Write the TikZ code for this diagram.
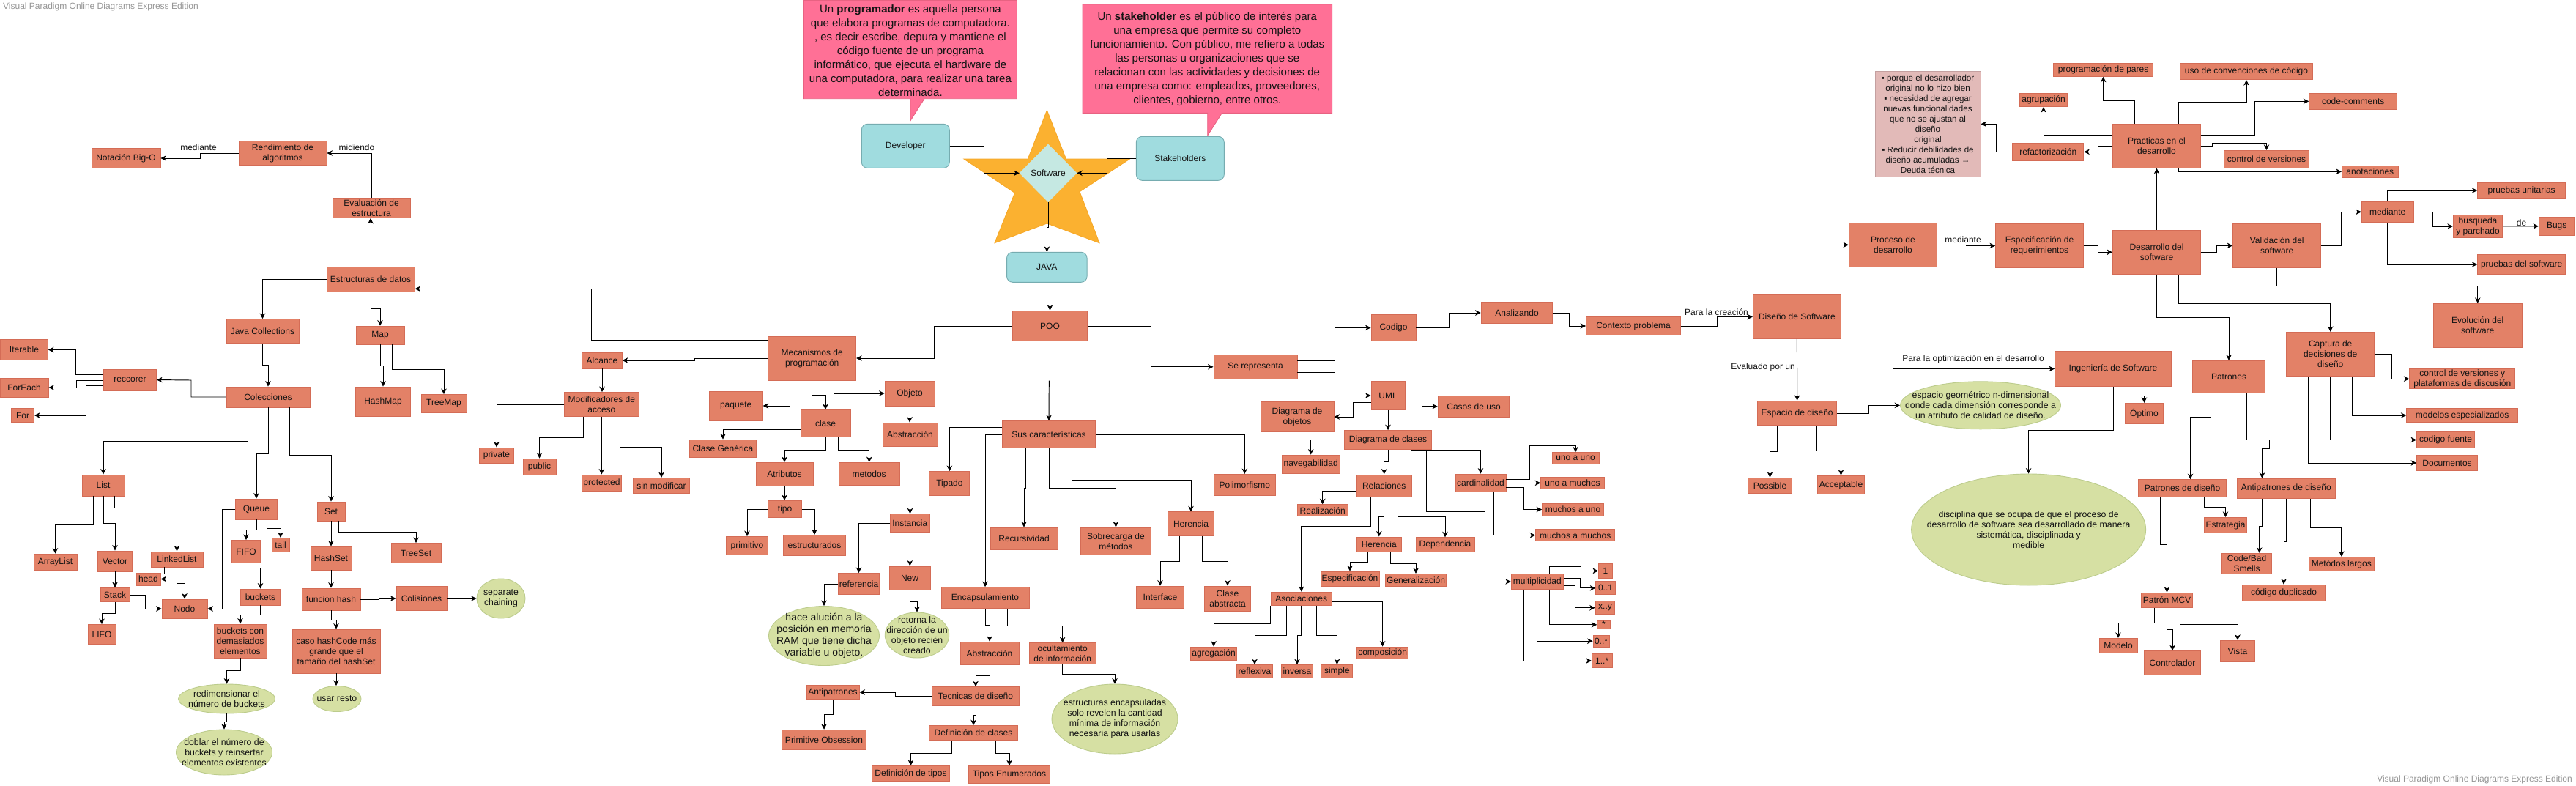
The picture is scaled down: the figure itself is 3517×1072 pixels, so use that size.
\documentclass[tikz,border=0pt]{standalone}
\usepackage{fontspec}
\setmainfont{Liberation Sans}
\usetikzlibrary{arrows.meta,shapes.geometric}
\definecolor{boxfill}{RGB}{227,129,103}
\definecolor{boxline}{RGB}{212,108,86}
\definecolor{ellfill}{RGB}{214,224,163}
\definecolor{ellline}{RGB}{188,204,140}
\definecolor{cyanfill}{RGB}{160,220,223}
\definecolor{cyanline}{RGB}{118,172,176}
\definecolor{diafill}{RGB}{197,232,226}
\definecolor{starfill}{RGB}{251,177,48}
\definecolor{starline}{RGB}{246,168,40}
\definecolor{pinkfill}{RGB}{255,112,150}
\definecolor{pinkline}{RGB}{232,98,130}
\definecolor{deudafill}{RGB}{226,186,184}
\definecolor{deudaline}{RGB}{196,160,160}
\definecolor{wmgray}{RGB}{150,150,150}
\definecolor{txt}{RGB}{20,20,20}
\newcommand{\mybox}[6]{\node[box,minimum width=#4pt,minimum height=#5pt] (#1) at (#2,#3) {#6};}
\newcommand{\myell}[6]{\node[ell,minimum width=#4pt,minimum height=#5pt] (#1) at (#2,#3) {};\node[etext] (#1t) at (#1) {#6};}
\begin{document}
\begin{tikzpicture}[x=1pt,y=-1pt,
  box/.style={draw=boxline,fill=boxfill,line width=0.9pt,align=center,inner sep=1pt,font=\fontsize{12}{14}\selectfont,text=txt},
  rbox/.style={draw=cyanline,fill=cyanfill,line width=0.9pt,rounded corners=8pt,align=center,inner sep=1pt,font=\fontsize{12}{14}\selectfont,text=txt},
  ell/.style={ellipse,draw=ellline,fill=ellfill,line width=0.9pt,inner sep=0pt},
  etext/.style={align=center,inner sep=0pt,font=\fontsize{12.3}{14}\selectfont,text=txt},
  lbl/.style={inner sep=0pt,font=\fontsize{12}{14}\selectfont,text=txt},
  arr/.style={draw=black,line width=0.95pt,-{Stealth[length=7.5pt,width=7.5pt,inset=2.2pt]}},
  callout/.style={draw=pinkline,fill=pinkfill,line width=0.9pt},
  ctext/.style={align=center,inner sep=0pt,font=\fontsize{15}{19}\selectfont,text=txt}
]
\fill[white] (0,0) rectangle (3517,1072);
\useasboundingbox (0,0) rectangle (3517,1072);

% watermarks
\node[anchor=north west,inner sep=0pt,font=\fontsize{12}{14}\selectfont,text=wmgray] (wm1) at (4,4) {Visual Paradigm Online Diagrams Express Edition};
\node[anchor=south east,inner sep=0pt,font=\fontsize{12}{14}\selectfont,text=wmgray] (wm2) at (3512,1070) {Visual Paradigm Online Diagrams Express Edition};

% ---------- callouts ----------
\draw[callout] (1097.4,0.5) -- (1388.3,0.5) -- (1388.3,134.7) -- (1262,134.7) -- (1243,164.7) -- (1243,134.7) -- (1097.4,134.7) -- cycle;
\node[ctext] (cprog) at (1242.9,68.7) {Un \textbf{programador} es aquella persona\\que elabora programas de computadora.\\, es decir escribe, depura y mantiene el\\código fuente de un programa\\informático, que ejecuta el hardware de\\una computadora, para realizar una tarea\\determinada.};
\draw[callout] (1478,6) -- (1818.7,6) -- (1818.7,154.3) -- (1668.3,154.3) -- (1648.7,185) -- (1648.7,154.3) -- (1478,154.3) -- cycle;
\node[ctext] (cstk) at (1648.3,81) {Un \textbf{stakeholder} es el público de interés para\\una empresa que permite su completo\\funcionamiento. Con público, me refiero a todas\\las personas u organizaciones que se\\relacionan con las actividades y decisiones de\\una empresa como: empleados, proveedores,\\clientes, gobierno, entre otros.};

% ---------- star & top ----------
\draw[fill=starfill,draw=starline,line width=0.9pt] (1429.4,150.7) -- (1455.5,217) -- (1542.5,217) -- (1474,261.7) -- (1501,331.7) -- (1429.4,305) -- (1358,331.7) -- (1385.5,263.3) -- (1316,217) -- (1403.3,217) -- cycle;
\node[diamond,draw=diafill,fill=diafill,minimum width=78pt,minimum height=79pt,inner sep=0pt,font=\fontsize{12}{14}\selectfont,text=txt] (soft) at (1431,236.3) {Software};
\node[rbox,minimum width=120pt,minimum height=60pt] (dev) at (1236.3,199.3) {Developer};
\node[rbox,minimum width=120pt,minimum height=60pt] (stk) at (1611.3,216.3) {Stakeholders};
\node[rbox,minimum width=109.5pt,minimum height=41pt] (java) at (1429.3,364.8) {JAVA};
\mybox{poo}{1433.5}{445}{102.4}{41.4}{POO}

% ---------- left cluster ----------
\mybox{nbo}{172}{216}{94}{27}{Notación Big-O}
\mybox{rend}{386}{209}{120}{33}{Rendimiento de\\algoritmos}
\mybox{eval}{507}{284}{106}{27}{Evaluación de\\estructura}
\mybox{est}{506}{381.5}{120}{34}{Estructuras de datos}
\mybox{jc}{358.5}{452}{99}{33}{Java Collections}
\mybox{map}{519}{457.5}{66}{25}{Map}
\mybox{hmap}{523}{548}{75}{40}{HashMap}
\mybox{tmap}{606}{551}{62}{25}{TreeMap}
\mybox{col}{366}{542}{114}{28}{Colecciones}
\mybox{rec}{177.5}{518.5}{72}{29}{reccorer}
\mybox{iter}{33}{477.5}{65}{28}{Iterable}
\mybox{fe}{33}{529}{66}{26}{ForEach}
\mybox{forb}{31}{567}{31}{19}{For}
\mybox{list}{141}{662.5}{58}{29}{List}
\mybox{queue}{350}{695}{57}{28}{Queue}
\mybox{set}{452}{698}{38}{26}{Set}
\mybox{alist}{75.5}{767}{59}{22}{ArrayList}
\mybox{vec}{157}{766}{47}{28}{Vector}
\mybox{llist}{241.5}{763.5}{71}{21}{LinkedList}
\mybox{head}{202.5}{790.5}{33}{17}{head}
\mybox{nodo}{252}{831}{62}{26}{Nodo}
\mybox{stack}{157}{812}{40}{19}{Stack}
\mybox{lifo}{139}{866}{38}{27}{LIFO}
\mybox{fifo}{336}{753}{39}{31}{FIFO}
\mybox{tail}{383}{744}{24}{19}{tail}
\mybox{hset}{452}{762}{56}{32}{HashSet}
\mybox{tset}{568}{755}{68}{27}{TreeSet}
\mybox{buck}{355.5}{815}{54}{22}{buckets}
\mybox{fhash}{452}{818}{80}{30}{funcion hash}
\mybox{colis}{575.5}{817}{69}{33}{Colisiones}
\mybox{bcde}{328}{875}{72}{46}{buckets con\\demasiados\\elementos}
\mybox{caso}{459}{889}{120}{60}{caso hashCode más\\grande que el\\tamaño del hashSet}
\myell{redim}{309.5}{954}{132}{40}{redimensionar el\\número de buckets}
\myell{usar}{460}{954}{66}{35}{usar resto}
\myell{doblar}{306}{1027}{131}{62}{doblar el número de\\buckets y reinsertar\\elementos existentes}
\myell{sep}{684}{817}{66}{54}{separate\\chaining}

\node[lbl] (lmed1) at (271,201) {mediante};
\node[lbl] (lmid) at (487,201) {midiendo};

\draw[arr] (eval.north) |- (rend.east);
\draw[arr] (rend.west) -| (273,216) -- (nbo.east);
\draw[arr] (est.north) -- (est.north |- eval.south);
\draw[arr] (est.west) -| (jc.north);
\draw[arr] (est.south) |- (519,421) -- (map.north);
\draw[arr] (map.south) |- (523,499) -- (hmap.north);
\draw[arr] (map.south -| 535,0) |- (606,504) -- (tmap.north);
\draw[arr] (jc.south) |- (366,498) -- (col.north);
\draw[arr] (col.west) -| (261,519) -- (rec.east);
\draw[arr] (rec.west |- 0,511) -| (103,477.5) -- (iter.east);
\draw[arr] (rec.west |- 0,519) -| (104,529) -- (fe.east);
\draw[arr] (rec.west |- 0,526.7) -| (117,567) -- (forb.east);
\draw[arr] (col.south -| 338,0) |- (141,602) -- (list.north);
\draw[arr] (col.south) |- (350,619) -- (queue.north);
\draw[arr] (col.south -| 395,0) |- (452,621) -- (set.north);
\draw[arr] (list.south -| 127,0) |- (75.5,716) -- (alist.north);
\draw[arr] (list.south) |- (157,714) -- (vec.north);
\draw[arr] (list.south -| 156.5,0) |- (241.5,693) -- (llist.north);
\draw[arr] (llist.south -| 224.5,0) |- (229,783.7) |- (head.east);
\draw[arr] (llist.south) |- (252,796.7) -- (nodo.north);
\draw[arr] (vec.south) -- (stack.north);
\draw[arr] (stack.east) -| (198,831) -- (nodo.west);
\draw[arr] (stack.south) |- (139,837) -- (lifo.north);
\draw[arr] (queue.west) -| (303,831) -- (nodo.east);
\draw[arr] (queue.south) |- (336,723) -- (fifo.north);
\draw[arr] (queue.south -| 364.4,0) |- (383,721) -- (tail.north);
\draw[arr] (set.south) -- (hset.north);
\draw[arr] (set.south -| 462,0) |- (568,726) -- (tset.north);
\draw[arr] (hset.west |- 0,775) -| (buck.north);
\draw[arr] (hset.south) -- (fhash.north);
\draw[arr] (fhash.east) -| (517,817) -- (colis.west);
\draw[arr] (colis.east) -- (sep.west);
\draw[arr] (buck.south) |- (328,839) -- (bcde.north);
\draw[arr] (fhash.south) |- (459,846.7) -- (caso.north);
\draw[arr] (bcde.south) |- (309.5,915) -- (redim.north);
\draw[arr] (caso.south) -- (caso.south |- usar.north);
\draw[arr] (redim.south) |- (306,985) -- (doblar.north);

% ---------- middle cluster ----------
\mybox{mec}{1108.7}{489}{120}{60}{Mecanismos de\\programación}
\mybox{alc}{822}{492}{54.5}{22}{Alcance}
\mybox{mod}{821.4}{552}{102}{33}{Modificadores de\\acceso}
\mybox{priv}{678}{621.5}{47}{21}{private}
\mybox{pub}{736.5}{637}{45}{22}{public}
\mybox{prot}{821.5}{659}{53.5}{22}{protected}
\mybox{sinm}{903}{663}{77}{21}{sin modificar}
\mybox{paq}{1004.7}{554}{73}{40}{paquete}
\mybox{clase}{1127}{578}{68}{37}{clase}
\mybox{obj}{1242}{537}{68}{34}{Objeto}
\mybox{cgen}{987}{612}{91}{24}{Clase Genérica}
\mybox{atr}{1071}{647.5}{78}{32}{Atributos}
\mybox{met}{1186.7}{647}{83}{31}{metodos}
\mybox{absa}{1242.5}{593}{75}{32}{Abstracción}
\mybox{tipo}{1071.6}{695}{46}{23}{tipo}
\mybox{prim}{1020}{745}{57}{25}{primitivo}
\mybox{estr}{1112}{744.5}{85}{28}{estructurados}
\mybox{inst}{1242.3}{714}{53.5}{24.5}{Instancia}
\mybox{ref}{1172.5}{797}{54}{29}{referencia}
\mybox{new}{1242}{789}{56}{32}{New}
\node[ell,minimum width=151pt,minimum height=81pt] (hace) at (1125,868) {};
\node[etext,font=\fontsize{14}{16}\selectfont] (hacet) at (hace) {hace alución a la\\posición en memoria\\RAM que tiene dicha\\variable u objeto.};
\myell{ret}{1252}{867}{87.5}{62}{retorna la\\dirección de un\\objeto recién\\creado}
\mybox{sus}{1432}{593}{127.5}{37}{Sus características}
\mybox{tip}{1296.4}{660}{55}{33}{Tipado}
\mybox{recu}{1398}{735}{92}{30}{Recursividad}
\mybox{sobre}{1523.4}{739}{96}{37.7}{Sobrecarga de\\métodos}
\mybox{enc}{1345}{816}{120}{28.7}{Encapsulamiento}
\mybox{absb}{1351}{892}{80}{31.7}{Abstracción}
\mybox{ocul}{1450.7}{892}{91}{28.7}{ocultamiento\\de información}
\mybox{tec}{1332}{950.5}{119}{25.7}{Tecnicas de diseño}
\mybox{antia}{1137}{945}{72}{19.7}{Antipatrones}
\mybox{prob}{1125}{1009.7}{115}{27}{Primitive Obsession}
\mybox{dclas}{1329}{1000.5}{121}{19.7}{Definición de clases}
\mybox{dtip}{1243.5}{1056}{106}{21}{Definición de tipos}
\mybox{tenum}{1378}{1057.5}{111}{23.7}{Tipos Enumerados}
\myell{estenc}{1522}{981.5}{172}{95}{estructuras encapsuladas\\solo revelen la cantidad\\mínima de información\\necesaria para usarlas}

\draw[arr] (mec.west |- 0,464) -| (807.6,394.3) -- (est.east |- 0,394.3);
\draw[arr] (mec.west) -| (948.7,492) -- (alc.east);
\draw[arr] (alc.south) -- (alc.south |- mod.north);
\draw[arr] (mod.west) -| (priv.north);
\draw[arr] (mod.south -| 796.4,0) |- (736.5,597) -- (pub.north);
\draw[arr] (mod.south) -- (mod.south |- prot.north);
\draw[arr] (mod.south -| 846.4,0) |- (903,610) -- (sinm.north);
\draw[arr] (mec.south -| 1078.6,0) |- (paq.east);
\draw[arr] (mec.south) |- (1127,539) -- (clase.north);
\draw[arr] (mec.south -| 1138,0) |- (obj.west);
\draw[arr] (clase.west |- 0,586.3) -| (cgen.north);
\draw[arr] (clase.south) |- (1071,614) -- (atr.north);
\draw[arr] (clase.south -| 1144,0) |- (1186.7,614) -- (met.north);
\draw[arr] (obj.south) -- (obj.south |- absa.north);
\draw[arr] (atr.south) -- (atr.south |- tipo.north);
\draw[arr] (tipo.west) -| (prim.north);
\draw[arr] (tipo.east) -| (estr.north);
\draw[arr] (absa.south) -- (absa.south |- inst.north);
\draw[arr] (inst.west) -| (ref.north);
\draw[arr] (inst.south) -- (inst.south |- new.north);
\draw[arr] (ref.west) -| (hace.north);
\draw[arr] (new.south) |- (1252,821.7) -- (ret.north);
\draw[arr] (poo.west) -| (1275.5,489) -- (mec.east);
\draw[arr] (poo.south) |- (1432.3,520) -- (sus.north);
\draw[arr] (sus.west |- 0,583.3) -| (tip.north);
\draw[arr] (sus.west |- 0,593.3) -| (enc.north);
\draw[arr] (sus.south -| 1400,0) |- (1398,666.7) -- (recu.north);
\draw[arr] (sus.south -| 1432.6,0) |- (1523.4,666.3) -- (sobre.north);
\draw[arr] (enc.south) |- (1351,853) -- (absb.north);
\draw[arr] (enc.south -| 1375.4,0) |- (1450.7,854.3) -- (ocul.north);
\draw[arr] (absb.south) |- (1332,922) -- (tec.north);
\draw[arr] (tec.west) -| (1222,945) -- (antia.east);
\draw[arr] (antia.south) |- (1125,975.3) -- (prob.north);
\draw[arr] (tec.south) |- (1329,976.7) -- (dclas.north);
\draw[arr] (dclas.south -| 1299.5,0) |- (1243.5,1028.3) -- (dtip.north);
\draw[arr] (dclas.south -| 1359.4,0) |- (1378,1028.3) -- (tenum.north);
\draw[arr] (ocul.south) |- (1522,920.3) -- (estenc.north);

% top connectors
\draw[arr] (dev.east) -| (1343,236.3) -- (soft.west);
\draw[arr] (stk.west) -| (1511.3,236.3) -- (soft.east);
\draw[arr] (soft.south) |- (1429.3,310) -- (java.north);
\draw[arr] (java.south) |- (1433.5,405) -- (poo.north);

% ---------- right-middle cluster ----------
\mybox{serep}{1714}{500.8}{114}{32.5}{Se representa}
\mybox{poli}{1699.3}{662}{84}{29}{Polimorfismo}
\mybox{hera}{1626}{715}{63}{32.4}{Herencia}
\mybox{intf}{1584}{815}{65}{30}{Interface}
\mybox{cabs}{1676}{817}{63}{34}{Clase\\abstracta}
\mybox{cod}{1902.5}{447.4}{61}{36}{Codigo}
\mybox{anal}{2071}{427}{97.7}{29.3}{Analizando}
\mybox{ctx}{2230}{445}{129}{25.4}{Contexto problema}
\mybox{uml}{1895}{540}{46}{39}{UML}
\mybox{dobj}{1771}{569}{100}{41}{Diagrama de\\objetos}
\mybox{casos}{2012}{554.8}{97.6}{29.7}{Casos de uso}
\mybox{dcl}{1895}{600.7}{119}{26}{Diagrama de clases}
\mybox{nav}{1789.7}{633.8}{79.4}{25.5}{navegabilidad}
\mybox{rel}{1889.7}{663.3}{75}{30.7}{Relaciones}
\mybox{card}{2021.5}{659.4}{69}{24.7}{cardinalidad}
\mybox{uaa}{2151}{625.7}{64}{16}{uno a uno}
\mybox{uam}{2147}{659.3}{86.7}{16.6}{uno a muchos}
\mybox{mau}{2147.5}{695.5}{84}{17}{muchos a uno}
\mybox{mam}{2150.7}{730.7}{108}{16}{muchos a muchos}
\mybox{real}{1805.7}{696.7}{69}{16}{Realización}
\mybox{herb}{1882.8}{743}{61}{20}{Herencia}
\mybox{dep}{1973}{743.4}{80}{19.3}{Dependencia}
\mybox{espec}{1843}{790}{80}{20}{Especificación}
\mybox{gen}{1933}{792}{83.5}{17.3}{Generalización}
\mybox{asoc}{1776.8}{817.2}{83}{18}{Asociaciones}
\mybox{agr}{1657}{892}{63.3}{18}{agregación}
\mybox{refl}{1713}{916.6}{49}{18}{reflexiva}
\mybox{inv}{1771}{916.6}{43}{18}{inversa}
\mybox{simp}{1825.4}{916.6}{43}{18}{simple}
\mybox{comp}{1887.6}{891}{70.6}{16}{composición}
\mybox{mult}{2098.8}{794}{71}{20.3}{multiplicidad}
\mybox{ma}{2192}{779.4}{19}{19.3}{1}
\mybox{mb}{2192}{802.8}{26.5}{18}{0..1}
\mybox{mc}{2191.5}{829.7}{26.6}{18}{x..y}
\mybox{md}{2189.4}{852.8}{17.4}{10.4}{*}
\mybox{me}{2186}{875.2}{22}{16.5}{0..*}
\mybox{mf}{2187.2}{902}{27.5}{19.3}{1..*}

\draw[arr] (poo.east) -| (1571.3,500.8) -- (serep.west);
\draw[arr] (sus.east) -| (poli.north);
\draw[arr] (sus.south -| 1463.4,0) |- (1626,655.5) -- (hera.north);
\draw[arr] (hera.south -| 1610.5,0) |- (1584,766) -- (intf.north);
\draw[arr] (hera.south -| 1641.3,0) |- (1676,766) -- (cabs.north);
\draw[arr] (serep.east |- 0,492.4) -| (1822,447.4) -- (cod.west);
\draw[arr] (serep.east |- 0,508.6) -| (1822,540) -- (uml.west);
\draw[arr] (cod.east) -| (1978,427) -- (anal.west);
\draw[arr] (anal.east) -| (2142.7,445) -- (ctx.west);
\draw[arr] (uml.west |- 0,549.7) -| (1847,569) -- (dobj.east);
\draw[arr] (uml.east) -| (1941,554.8) -- (casos.west);
\draw[arr] (uml.south) -- (dcl.north);
\draw[arr] (dcl.west) -| (nav.north);
\draw[arr] (dcl.south) |- (1889.7,630.7) -- (rel.north);
\draw[arr] (dcl.south -| 1926,0) -| (card.north);
\draw[arr] (dcl.south -| 1947.2,0) |- (2027,698.6) |- (mult.west);
\draw[arr] (card.east |- 0,654) -| (2088,608) -| (uaa.north);
\draw[arr] (card.east |- 0,659.3) -- (uam.west);
\draw[arr] (card.east |- 0,665.5) -| (2080.7,695.5) -- (mau.west);
\draw[arr] (card.south -| 2039,0) |- (mam.west);
\draw[arr] (rel.west |- 0,670.7) -| (real.north);
\draw[arr] (rel.south) |- (1882.8,705.5) -- (herb.north);
\draw[arr] (rel.south -| 1908,0) |- (1973,705.5) -- (dep.north);
\draw[arr] (rel.south -| 1871,0) |- (1776.8,718.6) -- (asoc.north);
\draw[arr] (herb.south -| 1867,0) |- (1843,767) -- (espec.north);
\draw[arr] (herb.south -| 1898,0) |- (1933,769) -- (gen.north);
\draw[arr] (asoc.south west) |- (1657,851) -- (agr.north);
\draw[arr] (asoc.south -| 1756.4,0) |- (1713,867) -- (refl.north);
\draw[arr] (asoc.south) |- (1771,867) -- (inv.north);
\draw[arr] (asoc.south -| 1797,0) |- (1825.4,867) -- (simp.north);
\draw[arr] (asoc.east |- 0,821) -| (comp.north);
\draw[arr] (mult.north -| 2115.6,0) |- (2158.7,773.8) |- (ma.west);
\draw[arr] (mult.east |- 0,789.3) -| (2157,802.8) -- (mb.west);
\draw[arr] (mult.east |- 0,799) -| (2150,829.7) -- (mc.west);
\draw[arr] (mult.south -| 2115.6,0) |- (md.west);
\draw[arr] (mult.south) |- (me.west);
\draw[arr] (mult.south -| 2080.7,0) |- (mf.west);

% ---------- right cluster ----------
\mybox{dis}{2453.4}{432.5}{120}{60}{Diseño de Software}
\mybox{proc}{2584.4}{334.3}{120}{60}{Proceso de\\desarrollo}
\mybox{espr}{2784.5}{335.5}{120}{60}{Especificación de\\requerimientos}
\mybox{espd}{2453.6}{564}{108}{33.3}{Espacio de diseño}
\myell{geo}{2704}{553.3}{219}{65}{espacio geométrico n-dimensional\\donde cada dimensión corresponde a\\un atributo de calidad de diseño.}
\mybox{poss}{2416.5}{662.8}{59.7}{21}{Possible}
\mybox{acc}{2513.5}{662}{64}{25.4}{Acceptable}
\mybox{ing}{2885}{503.5}{159}{48}{Ingeniería de Software}
\mybox{opt}{2927.5}{564.3}{52}{28}{Óptimo}
\myell{disc}{2769.6}{723}{320}{152}{disciplina que se ocupa de que el proceso de\\desarrollo de software sea desarrollado de manera\\sistemática, disciplinada y\\medible}
\mybox{des}{2944.5}{344.3}{120}{60}{Desarrollo del\\software}
\mybox{val}{3108.7}{335.3}{120}{60}{Validación del\\software}
\mybox{prac}{2944.5}{199.3}{120}{60}{Practicas en el\\desarrollo}
\mybox{ppar}{2871.6}{95.3}{136}{18}{programación de pares}
\mybox{uso}{3067}{97.5}{181}{22.4}{uso de convenciones de código}
\mybox{agru}{2790}{136.5}{64.7}{18.4}{agrupación}
\mybox{ccom}{3212.7}{138.3}{120}{22}{code-comments}
\mybox{cver}{3094.5}{217.5}{116.4}{24.4}{control de versiones}
\mybox{refa}{2796.3}{207.3}{97}{24}{refactorización}
\node[draw=deudaline,fill=deudafill,line width=0.9pt,minimum width=144pt,minimum height=144pt,inner sep=0pt,align=center,font=\fontsize{11.6}{14}\selectfont,text=txt] (deuda) at (2632,169.3) {▪ porque el desarrollador\\original no lo hizo bien\\▪ necesidad de agregar\\nuevas funcionalidades\\que no se ajustan al\\diseño\\original\\▪ Reducir debilidades de\\diseño acumuladas →\\Deuda técnica};
\mybox{anot}{3235.8}{234.3}{76.6}{16}{anotaciones}
\mybox{medb}{3259.7}{289.3}{70.6}{28}{mediante}
\mybox{pu}{3442.7}{260}{120}{21.4}{pruebas unitarias}
\mybox{busq}{3383}{309}{67.3}{31.4}{busqueda\\y parchado}
\mybox{bugs}{3490.7}{308.8}{48.4}{25}{Bugs}
\mybox{pds}{3442.7}{361}{120}{27.3}{pruebas del software}
\mybox{evo}{3382.7}{444.5}{120.6}{60.4}{Evolución del\\software}
\mybox{pat}{3043}{514.3}{99}{44}{Patrones}
\mybox{capt}{3181.7}{483.5}{120}{60.4}{Captura de\\decisiones de\\diseño}
\mybox{cvpd}{3361.8}{517.2}{144}{27}{control de versiones y\\plataformas de discusión}
\mybox{mesp}{3361.6}{567}{151.6}{19.4}{modelos especializados}
\mybox{cfue}{3339}{600.5}{79}{22.4}{codigo fuente}
\mybox{docs}{3341}{632}{83}{21.4}{Documentos}
\mybox{pdd}{2979.5}{666.5}{120.4}{23.7}{Patrones de diseño}
\mybox{antd}{3121.3}{666.8}{134}{27}{Antipatrones de diseño}
\mybox{estra}{3038.5}{717}{58.3}{21.4}{Estrategia}
\mybox{mcv}{2958.5}{819.5}{70.4}{20.4}{Patrón MCV}
\mybox{modelo}{2892}{881.5}{52}{20.4}{Modelo}
\mybox{ctrl}{2966}{905}{77.4}{32.7}{Controlador}
\mybox{vista}{3055}{889}{47.4}{29.4}{Vista}
\mybox{cbs}{3067.5}{769.3}{68.4}{28}{Code/Bad\\Smells}
\mybox{cdup}{3118}{809.3}{113.4}{22}{código duplicado}
\mybox{mlar}{3196.8}{770}{89}{19.4}{Metódos largos}

\node[lbl] (lcre) at (2343.5,425.7) {Para la creación};
\node[lbl] (lmed2) at (2680,327) {mediante};
\node[lbl] (leva) at (2407,501.7) {Evaluado por un};
\node[lbl] (lopt) at (2694,490.7) {Para la optimización en el desarrollo};
\node[lbl] (lde) at (3442.6,304) {de};

\draw[arr] (ctx.east) -| (2344.4,432.5) -- (dis.west);
\draw[arr] (dis.north) |- (proc.west);
\draw[arr] (proc.east) -| (2684.7,335.5) -- (espr.west);
\draw[arr] (dis.south) -- (espd.north);
\draw[arr] (espd.east) -| (2551.5,553.3) -- (geo.west);
\draw[arr] (espd.south -| 2426.5,0) |- (2416.5,616.3) -- (poss.north);
\draw[arr] (espd.south -| 2480.6,0) |- (2513.5,615) -- (acc.north);
\draw[arr] (proc.south) |- (ing.west);
\draw[arr] (ing.south -| 2924.8,0) |- (2927.5,540) -- (opt.north);
\draw[arr] (ing.south) |- (2769.6,587.3) -- (disc.north);
\draw[arr] (espr.east) -| (2864.7,344.3) -- (des.west);
\draw[arr] (des.east) -| (3026.4,335.3) -- (val.west);
\draw[arr] (des.north) -- (prac.south);
\draw[arr] (prac.north -| 2914.4,0) |- (2871.6,137.3) -- (ppar.south);
\draw[arr] (prac.north -| 2974.6,0) |- (3067,139.3) -- (uso.south);
\draw[arr] (prac.west |- 0,184.3) -| (agru.south);
\draw[arr] (prac.east |- 0,184.3) -| (3078.6,138.3) -- (ccom.west);
\draw[arr] (prac.east) -| (3020.4,195.7) -| (cver.north);
\draw[arr] (prac.west) -| (2864.7,207.3) -- (refa.east);
\draw[arr] (refa.west) -| (2725.4,169.3) -- (deuda.east);
\draw[arr] (prac.south -| 2974.6,0) |- (anot.west);
\draw[arr] (val.east) -| (3196.5,289.3) -- (medb.west);
\draw[arr] (medb.north) |- (pu.west);
\draw[arr] (medb.east) -| (3321.6,309) -- (busq.west);
\draw[arr] (busq.east) -- (bugs.west);
\draw[arr] (medb.south) |- (pds.west);
\draw[arr] (val.south) |- (3382.7,390.3) -- (evo.north);
\draw[arr] (des.south) |- (3043,433.3) -- (pat.north);
\draw[arr] (des.south -| 2974.4,0) |- (3181.7,414.3) -- (capt.north);
\draw[arr] (capt.east) -| (3265.7,517.2) -- (cvpd.west);
\draw[arr] (capt.south -| 3211.4,0) |- (mesp.west);
\draw[arr] (capt.south) |- (cfue.west);
\draw[arr] (capt.south -| 3151.6,0) |- (docs.west);
\draw[arr] (pat.south -| 3018.5,0) |- (2990.5,569.3) -- (pdd.north -| 2990.5,0);
\draw[arr] (pat.south -| 3067.7,0) |- (3098.4,600.3) |- (3088.4,612.3) -- (antd.north -| 3088.4,0);
\draw[arr] (pdd.south -| 3009.3,0) |- (3038.5,692.3) -- (estra.north);
\draw[arr] (pdd.south -| 2949.3,0) |- (2958.5,743.3) -- (mcv.north);
\draw[arr] (mcv.south -| 2941.3,0) |- (2892,850.3) -- (modelo.north);
\draw[arr] (mcv.south) |- (2966,859.3) -- (ctrl.north);
\draw[arr] (mcv.south -| 2976.7,0) |- (3055,852.3) -- (vista.north);
\draw[arr] (antd.south -| 3088.3,0) |- (3084.7,718) -- (cbs.north -| 3084.7,0);
\draw[arr] (antd.south) |- (3118,739.7) -- (cdup.north);
\draw[arr] (antd.south -| 3154.3,0) |- (3196.8,720.3) -- (mlar.north);
\end{tikzpicture}
\end{document}
